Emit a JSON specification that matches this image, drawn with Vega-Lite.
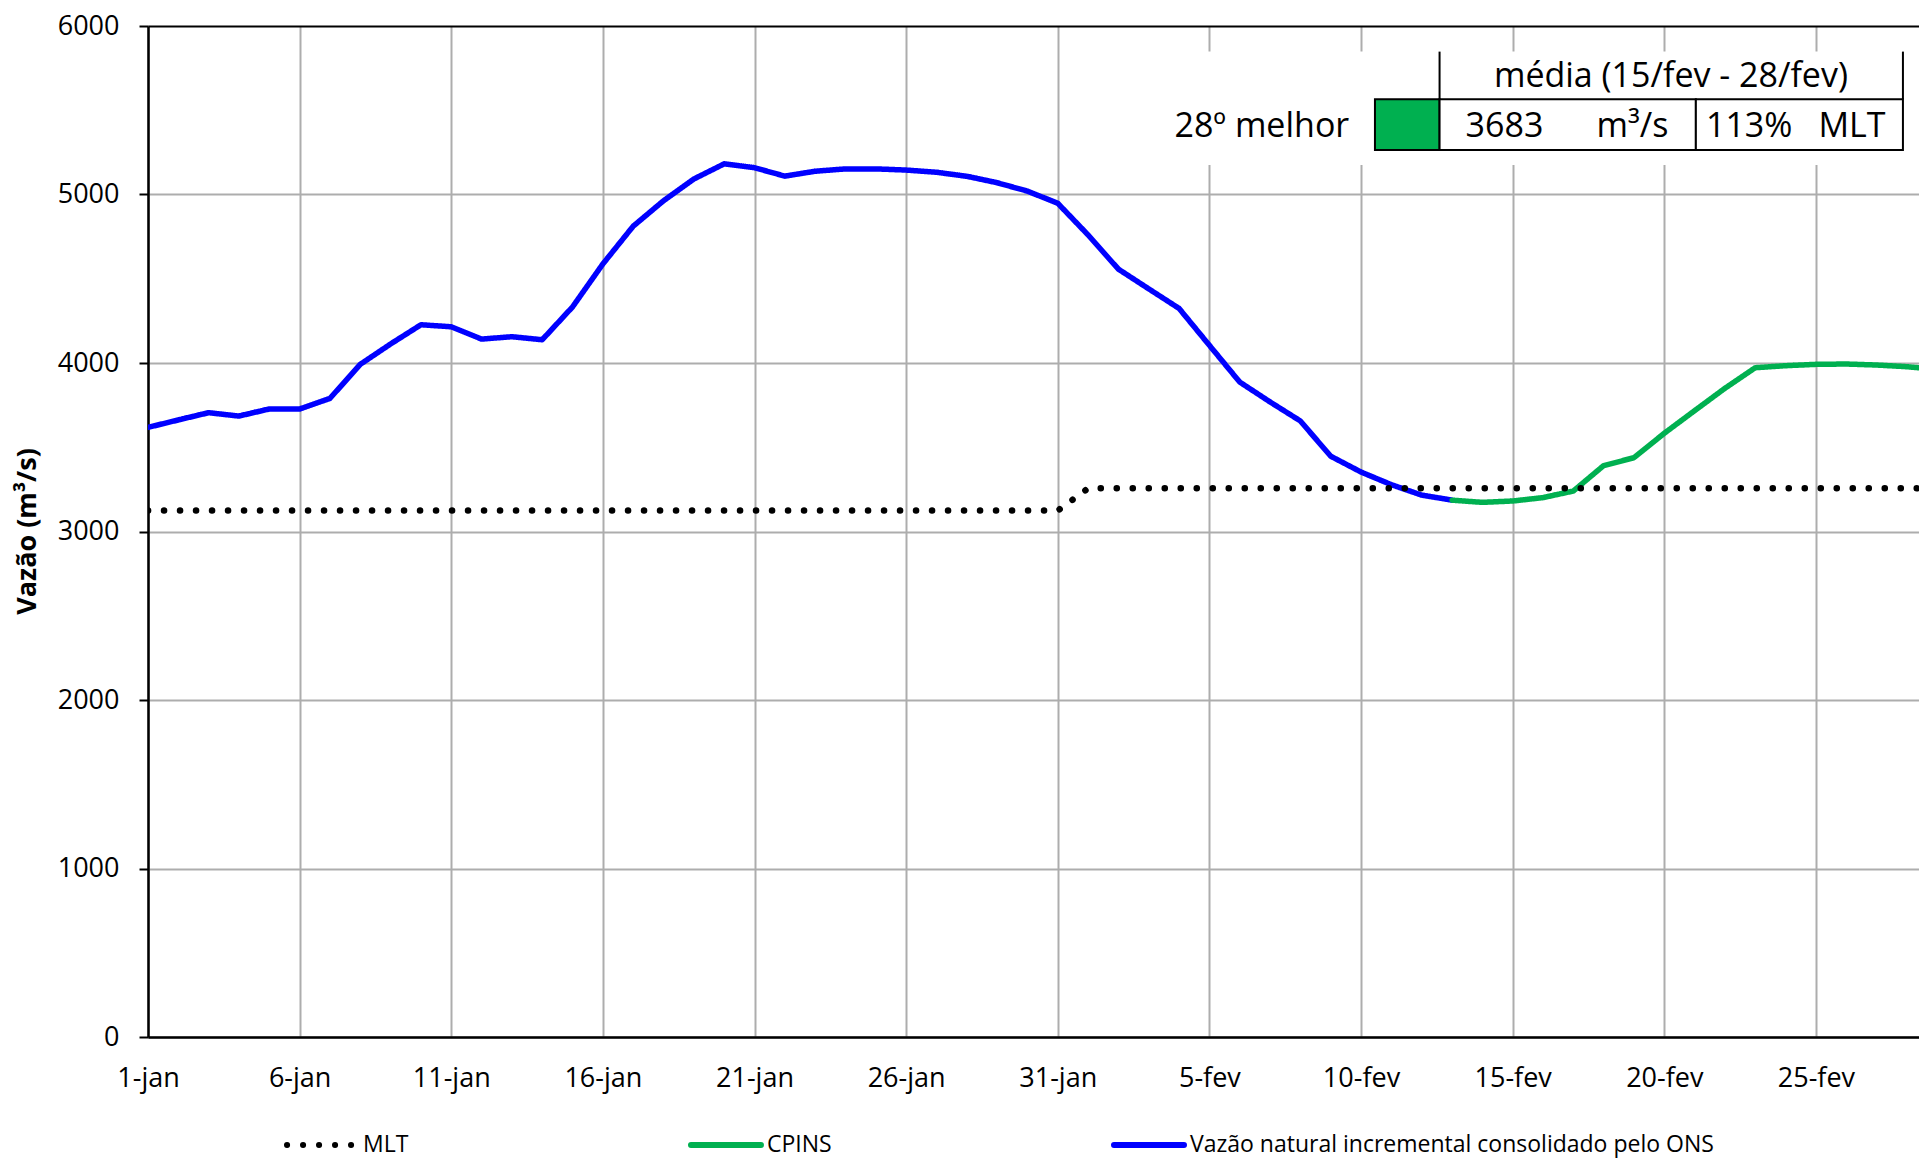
{
  "$schema": "https://vega.github.io/schema/vega-lite/v6.json",
  "width": 1771,
  "height": 1011,
  "autosize": {"type": "none"},
  "padding": {"left": 148, "top": 26, "right": 0, "bottom": 123},
  "background": "white",
  "config": {"view": {"stroke": null}, "font": "Open Sans"},
  "datasets": {
    "vazao": [
      {"data": "2023-01-01T00:00", "serie": "Vazão natural incremental consolidado pelo ONS", "valor": 3618},
      {"data": "2023-01-02T00:00", "serie": "Vazão natural incremental consolidado pelo ONS", "valor": 3662},
      {"data": "2023-01-03T00:00", "serie": "Vazão natural incremental consolidado pelo ONS", "valor": 3705},
      {"data": "2023-01-04T00:00", "serie": "Vazão natural incremental consolidado pelo ONS", "valor": 3685},
      {"data": "2023-01-05T00:00", "serie": "Vazão natural incremental consolidado pelo ONS", "valor": 3727},
      {"data": "2023-01-06T00:00", "serie": "Vazão natural incremental consolidado pelo ONS", "valor": 3727},
      {"data": "2023-01-07T00:00", "serie": "Vazão natural incremental consolidado pelo ONS", "valor": 3790},
      {"data": "2023-01-08T00:00", "serie": "Vazão natural incremental consolidado pelo ONS", "valor": 3992},
      {"data": "2023-01-09T00:00", "serie": "Vazão natural incremental consolidado pelo ONS", "valor": 4113},
      {"data": "2023-01-10T00:00", "serie": "Vazão natural incremental consolidado pelo ONS", "valor": 4227},
      {"data": "2023-01-11T00:00", "serie": "Vazão natural incremental consolidado pelo ONS", "valor": 4215},
      {"data": "2023-01-12T00:00", "serie": "Vazão natural incremental consolidado pelo ONS", "valor": 4142},
      {"data": "2023-01-13T00:00", "serie": "Vazão natural incremental consolidado pelo ONS", "valor": 4156},
      {"data": "2023-01-14T00:00", "serie": "Vazão natural incremental consolidado pelo ONS", "valor": 4138},
      {"data": "2023-01-15T00:00", "serie": "Vazão natural incremental consolidado pelo ONS", "valor": 4333},
      {"data": "2023-01-16T00:00", "serie": "Vazão natural incremental consolidado pelo ONS", "valor": 4588},
      {"data": "2023-01-17T00:00", "serie": "Vazão natural incremental consolidado pelo ONS", "valor": 4812},
      {"data": "2023-01-18T00:00", "serie": "Vazão natural incremental consolidado pelo ONS", "valor": 4963},
      {"data": "2023-01-19T00:00", "serie": "Vazão natural incremental consolidado pelo ONS", "valor": 5092},
      {"data": "2023-01-20T00:00", "serie": "Vazão natural incremental consolidado pelo ONS", "valor": 5182},
      {"data": "2023-01-21T00:00", "serie": "Vazão natural incremental consolidado pelo ONS", "valor": 5159},
      {"data": "2023-01-22T00:00", "serie": "Vazão natural incremental consolidado pelo ONS", "valor": 5109},
      {"data": "2023-01-23T00:00", "serie": "Vazão natural incremental consolidado pelo ONS", "valor": 5138},
      {"data": "2023-01-24T00:00", "serie": "Vazão natural incremental consolidado pelo ONS", "valor": 5152},
      {"data": "2023-01-25T00:00", "serie": "Vazão natural incremental consolidado pelo ONS", "valor": 5152},
      {"data": "2023-01-26T00:00", "serie": "Vazão natural incremental consolidado pelo ONS", "valor": 5145},
      {"data": "2023-01-27T00:00", "serie": "Vazão natural incremental consolidado pelo ONS", "valor": 5132},
      {"data": "2023-01-28T00:00", "serie": "Vazão natural incremental consolidado pelo ONS", "valor": 5108},
      {"data": "2023-01-29T00:00", "serie": "Vazão natural incremental consolidado pelo ONS", "valor": 5070},
      {"data": "2023-01-30T00:00", "serie": "Vazão natural incremental consolidado pelo ONS", "valor": 5020},
      {"data": "2023-01-31T00:00", "serie": "Vazão natural incremental consolidado pelo ONS", "valor": 4948},
      {"data": "2023-02-01T00:00", "serie": "Vazão natural incremental consolidado pelo ONS", "valor": 4760},
      {"data": "2023-02-02T00:00", "serie": "Vazão natural incremental consolidado pelo ONS", "valor": 4557},
      {"data": "2023-02-03T00:00", "serie": "Vazão natural incremental consolidado pelo ONS", "valor": 4440},
      {"data": "2023-02-04T00:00", "serie": "Vazão natural incremental consolidado pelo ONS", "valor": 4324},
      {"data": "2023-02-05T00:00", "serie": "Vazão natural incremental consolidado pelo ONS", "valor": 4105},
      {"data": "2023-02-06T00:00", "serie": "Vazão natural incremental consolidado pelo ONS", "valor": 3887},
      {"data": "2023-02-07T00:00", "serie": "Vazão natural incremental consolidado pelo ONS", "valor": 3769},
      {"data": "2023-02-08T00:00", "serie": "Vazão natural incremental consolidado pelo ONS", "valor": 3656},
      {"data": "2023-02-09T00:00", "serie": "Vazão natural incremental consolidado pelo ONS", "valor": 3447},
      {"data": "2023-02-10T00:00", "serie": "Vazão natural incremental consolidado pelo ONS", "valor": 3353},
      {"data": "2023-02-11T00:00", "serie": "Vazão natural incremental consolidado pelo ONS", "valor": 3278},
      {"data": "2023-02-12T00:00", "serie": "Vazão natural incremental consolidado pelo ONS", "valor": 3216},
      {"data": "2023-02-13T00:00", "serie": "Vazão natural incremental consolidado pelo ONS", "valor": 3186},
      {"data": "2023-02-13T00:00", "serie": "CPINS", "valor": 3186},
      {"data": "2023-02-14T00:00", "serie": "CPINS", "valor": 3173},
      {"data": "2023-02-15T00:00", "serie": "CPINS", "valor": 3181},
      {"data": "2023-02-16T00:00", "serie": "CPINS", "valor": 3201},
      {"data": "2023-02-17T00:00", "serie": "CPINS", "valor": 3240},
      {"data": "2023-02-18T00:00", "serie": "CPINS", "valor": 3391},
      {"data": "2023-02-19T00:00", "serie": "CPINS", "valor": 3438},
      {"data": "2023-02-20T00:00", "serie": "CPINS", "valor": 3583},
      {"data": "2023-02-21T00:00", "serie": "CPINS", "valor": 3717},
      {"data": "2023-02-22T00:00", "serie": "CPINS", "valor": 3850},
      {"data": "2023-02-23T00:00", "serie": "CPINS", "valor": 3972},
      {"data": "2023-02-24T00:00", "serie": "CPINS", "valor": 3984},
      {"data": "2023-02-25T00:00", "serie": "CPINS", "valor": 3992},
      {"data": "2023-02-26T00:00", "serie": "CPINS", "valor": 3994},
      {"data": "2023-02-27T00:00", "serie": "CPINS", "valor": 3988},
      {"data": "2023-02-28T00:00", "serie": "CPINS", "valor": 3978},
      {"data": "2023-03-01T00:00", "serie": "CPINS", "valor": 3962}
    ],
    "mlt": [
      {"data": "2023-01-01T00:00", "serie": "MLT", "valor": 3124},
      {"data": "2023-01-02T00:00", "serie": "MLT", "valor": 3124},
      {"data": "2023-01-03T00:00", "serie": "MLT", "valor": 3124},
      {"data": "2023-01-04T00:00", "serie": "MLT", "valor": 3124},
      {"data": "2023-01-05T00:00", "serie": "MLT", "valor": 3124},
      {"data": "2023-01-06T00:00", "serie": "MLT", "valor": 3124},
      {"data": "2023-01-07T00:00", "serie": "MLT", "valor": 3124},
      {"data": "2023-01-08T00:00", "serie": "MLT", "valor": 3124},
      {"data": "2023-01-09T00:00", "serie": "MLT", "valor": 3124},
      {"data": "2023-01-10T00:00", "serie": "MLT", "valor": 3124},
      {"data": "2023-01-11T00:00", "serie": "MLT", "valor": 3124},
      {"data": "2023-01-12T00:00", "serie": "MLT", "valor": 3124},
      {"data": "2023-01-13T00:00", "serie": "MLT", "valor": 3124},
      {"data": "2023-01-14T00:00", "serie": "MLT", "valor": 3124},
      {"data": "2023-01-15T00:00", "serie": "MLT", "valor": 3124},
      {"data": "2023-01-16T00:00", "serie": "MLT", "valor": 3124},
      {"data": "2023-01-17T00:00", "serie": "MLT", "valor": 3124},
      {"data": "2023-01-18T00:00", "serie": "MLT", "valor": 3124},
      {"data": "2023-01-19T00:00", "serie": "MLT", "valor": 3124},
      {"data": "2023-01-20T00:00", "serie": "MLT", "valor": 3124},
      {"data": "2023-01-21T00:00", "serie": "MLT", "valor": 3124},
      {"data": "2023-01-22T00:00", "serie": "MLT", "valor": 3124},
      {"data": "2023-01-23T00:00", "serie": "MLT", "valor": 3124},
      {"data": "2023-01-24T00:00", "serie": "MLT", "valor": 3124},
      {"data": "2023-01-25T00:00", "serie": "MLT", "valor": 3124},
      {"data": "2023-01-26T00:00", "serie": "MLT", "valor": 3124},
      {"data": "2023-01-27T00:00", "serie": "MLT", "valor": 3124},
      {"data": "2023-01-28T00:00", "serie": "MLT", "valor": 3124},
      {"data": "2023-01-29T00:00", "serie": "MLT", "valor": 3124},
      {"data": "2023-01-30T00:00", "serie": "MLT", "valor": 3124},
      {"data": "2023-01-31T00:00", "serie": "MLT", "valor": 3124},
      {"data": "2023-02-01T00:00", "serie": "MLT", "valor": 3256},
      {"data": "2023-02-02T00:00", "serie": "MLT", "valor": 3256},
      {"data": "2023-02-03T00:00", "serie": "MLT", "valor": 3256},
      {"data": "2023-02-04T00:00", "serie": "MLT", "valor": 3256},
      {"data": "2023-02-05T00:00", "serie": "MLT", "valor": 3256},
      {"data": "2023-02-06T00:00", "serie": "MLT", "valor": 3256},
      {"data": "2023-02-07T00:00", "serie": "MLT", "valor": 3256},
      {"data": "2023-02-08T00:00", "serie": "MLT", "valor": 3256},
      {"data": "2023-02-09T00:00", "serie": "MLT", "valor": 3256},
      {"data": "2023-02-10T00:00", "serie": "MLT", "valor": 3256},
      {"data": "2023-02-11T00:00", "serie": "MLT", "valor": 3256},
      {"data": "2023-02-12T00:00", "serie": "MLT", "valor": 3256},
      {"data": "2023-02-13T00:00", "serie": "MLT", "valor": 3256},
      {"data": "2023-02-14T00:00", "serie": "MLT", "valor": 3256},
      {"data": "2023-02-15T00:00", "serie": "MLT", "valor": 3256},
      {"data": "2023-02-16T00:00", "serie": "MLT", "valor": 3256},
      {"data": "2023-02-17T00:00", "serie": "MLT", "valor": 3256},
      {"data": "2023-02-18T00:00", "serie": "MLT", "valor": 3256},
      {"data": "2023-02-19T00:00", "serie": "MLT", "valor": 3256},
      {"data": "2023-02-20T00:00", "serie": "MLT", "valor": 3256},
      {"data": "2023-02-21T00:00", "serie": "MLT", "valor": 3256},
      {"data": "2023-02-22T00:00", "serie": "MLT", "valor": 3256},
      {"data": "2023-02-23T00:00", "serie": "MLT", "valor": 3256},
      {"data": "2023-02-24T00:00", "serie": "MLT", "valor": 3256},
      {"data": "2023-02-25T00:00", "serie": "MLT", "valor": 3256},
      {"data": "2023-02-26T00:00", "serie": "MLT", "valor": 3256},
      {"data": "2023-02-27T00:00", "serie": "MLT", "valor": 3256},
      {"data": "2023-02-28T00:00", "serie": "MLT", "valor": 3256},
      {"data": "2023-03-01T00:00", "serie": "MLT", "valor": 3256}
    ],
    "fundo": [
      {"data": "2023-02-03T09:07", "data2": "2023-02-28T09:36", "valor": 5175, "valor2": 5848}
    ],
    "caixaVerde": [
      {"data": "2023-02-10T11:02", "data2": "2023-02-12T14:10", "valor": 5264, "valor2": 5565}
    ],
    "celulas": [
      {"data": "2023-02-12T14:10", "data2": "2023-02-21T01:00", "valor": 5264, "valor2": 5565},
      {"data": "2023-02-21T01:00", "data2": "2023-02-27T20:53", "valor": 5264, "valor2": 5565}
    ],
    "bordas": [
      {"data": "2023-02-12T14:10", "valor": 5565, "valor2": 5848},
      {"data": "2023-02-27T20:53", "valor": 5565, "valor2": 5848}
    ],
    "textos": [
      {"data": "2023-02-06T17:31", "valor": 5402, "texto": "28º melhor"},
      {"data": "2023-02-20T05:17", "valor": 5699, "texto": "média (15/fev - 28/fev)"},
      {"data": "2023-02-14T17:31", "valor": 5402, "texto": "3683"},
      {"data": "2023-02-18T22:48", "valor": 5402, "texto": "m³/s"},
      {"data": "2023-02-22T19:12", "valor": 5402, "texto": "113%"},
      {"data": "2023-02-26T04:34", "valor": 5402, "texto": "MLT"}
    ]
  },
  "encoding": {
    "x": {
      "field": "data",
      "type": "temporal",
      "scale": {"domain": [{"year": 2023, "month": 1, "date": 1}, {"year": 2023, "month": 2, "date": 28, "hours": 9, "minutes": 36}]},
      "axis": {
        "title": null,
        "values": [
          {"year": 2023, "month": 1, "date": 1}, {"year": 2023, "month": 1, "date": 6}, {"year": 2023, "month": 1, "date": 11},
          {"year": 2023, "month": 1, "date": 16}, {"year": 2023, "month": 1, "date": 21}, {"year": 2023, "month": 1, "date": 26},
          {"year": 2023, "month": 1, "date": 31}, {"year": 2023, "month": 2, "date": 5}, {"year": 2023, "month": 2, "date": 10},
          {"year": 2023, "month": 2, "date": 15}, {"year": 2023, "month": 2, "date": 20}, {"year": 2023, "month": 2, "date": 25}
        ],
        "labelExpr": "date(datum.value) + '-' + (month(datum.value) == 0 ? 'jan' : 'fev')",
        "grid": true,
        "gridColor": "#ADADAD",
        "gridWidth": 2,
        "ticks": false,
        "domainColor": "#000000",
        "domainWidth": 2.5,
        "labelFont": "Open Sans",
        "labelFontSize": 27,
        "labelColor": "#000000",
        "labelAngle": 0,
        "labelBaseline": "middle",
        "labelPadding": 41,
        "labelFlush": false,
        "labelOverlap": false
      }
    },
    "y": {
      "field": "valor",
      "type": "quantitative",
      "scale": {"domain": [0, 6000], "nice": false, "zero": true},
      "axis": {
        "title": "Vazão (m³/s)",
        "titleFont": "Open Sans",
        "titleFontSize": 27,
        "titleFontWeight": "bold",
        "titleColor": "#000000",
        "titleX": -121,
        "titleY": 505,
        "titleAngle": -90,
        "titleAlign": "center",
        "titleBaseline": "middle",
        "values": [0, 1000, 2000, 3000, 4000, 5000, 6000],
        "format": "d",
        "grid": true,
        "gridColor": {"condition": {"test": "datum.value == 6000", "value": "#000000"}, "value": "#ADADAD"},
        "gridWidth": 2,
        "tickColor": "#000000",
        "tickSize": 9,
        "tickWidth": 2,
        "domainColor": "#000000",
        "domainWidth": 2.5,
        "labelFont": "Open Sans",
        "labelFontSize": 27,
        "labelColor": "#000000",
        "labelPadding": 20
      }
    }
  },
  "layer": [
    {
      "data": {"name": "fundo"},
      "mark": {"type": "rect", "fill": "#FFFFFF", "stroke": null},
      "encoding": {"x2": {"field": "data2"}, "y2": {"field": "valor2"}}
    },
    {
      "data": {"name": "vazao"},
      "mark": {"type": "line", "strokeWidth": 5.5, "strokeCap": "round", "strokeJoin": "round", "clip": true},
      "encoding": {
        "color": {
          "field": "serie",
          "type": "nominal",
          "scale": {"domain": ["MLT", "CPINS", "Vazão natural incremental consolidado pelo ONS"], "range": ["#000000", "#00B050", "#0000FF"]},
          "legend": {
            "title": null,
            "orient": "none",
            "legendX": 136,
            "legendY": 1081,
            "direction": "horizontal",
            "columns": 3,
            "columnPadding": 270,
            "padding": 0,
            "symbolType": "stroke",
            "symbolSize": 4900,
            "symbolStrokeWidth": 6,
            "labelFont": "Open Sans",
            "labelFontSize": 23,
            "labelColor": "#000000",
            "labelOffset": 3,
            "labelLimit": 0,
            "encode": {"symbols": {"update": {"strokeCap": {"value": "round"}}}}
          }
        },
        "strokeDash": {
          "field": "serie",
          "type": "nominal",
          "scale": {"domain": ["MLT", "CPINS", "Vazão natural incremental consolidado pelo ONS"], "range": [[0.1, 15.9], [1, 0], [1, 0]]}
        }
      }
    },
    {
      "data": {"name": "mlt"},
      "mark": {"type": "line", "strokeWidth": 6.5, "strokeCap": "round", "strokeJoin": "round", "clip": true},
      "encoding": {
        "color": {
          "field": "serie",
          "type": "nominal",
          "scale": {"domain": ["MLT", "CPINS", "Vazão natural incremental consolidado pelo ONS"], "range": ["#000000", "#00B050", "#0000FF"]}
        },
        "strokeDash": {
          "field": "serie",
          "type": "nominal",
          "scale": {"domain": ["MLT", "CPINS", "Vazão natural incremental consolidado pelo ONS"], "range": [[0.1, 15.9], [1, 0], [1, 0]]}
        }
      }
    },
    {
      "data": {"name": "caixaVerde"},
      "mark": {"type": "rect", "fill": "#00B050", "stroke": "#000000", "strokeWidth": 2},
      "encoding": {"x2": {"field": "data2"}, "y2": {"field": "valor2"}}
    },
    {
      "data": {"name": "celulas"},
      "mark": {"type": "rect", "fill": "#FFFFFF", "stroke": "#000000", "strokeWidth": 2},
      "encoding": {"x2": {"field": "data2"}, "y2": {"field": "valor2"}}
    },
    {
      "data": {"name": "bordas"},
      "mark": {"type": "rule", "stroke": "#000000", "strokeWidth": 2},
      "encoding": {"y2": {"field": "valor2"}}
    },
    {
      "data": {"name": "textos"},
      "mark": {"type": "text", "font": "Open Sans", "fontSize": 34, "color": "#000000", "align": "center", "baseline": "middle"},
      "encoding": {"text": {"field": "texto"}}
    }
  ]
}
